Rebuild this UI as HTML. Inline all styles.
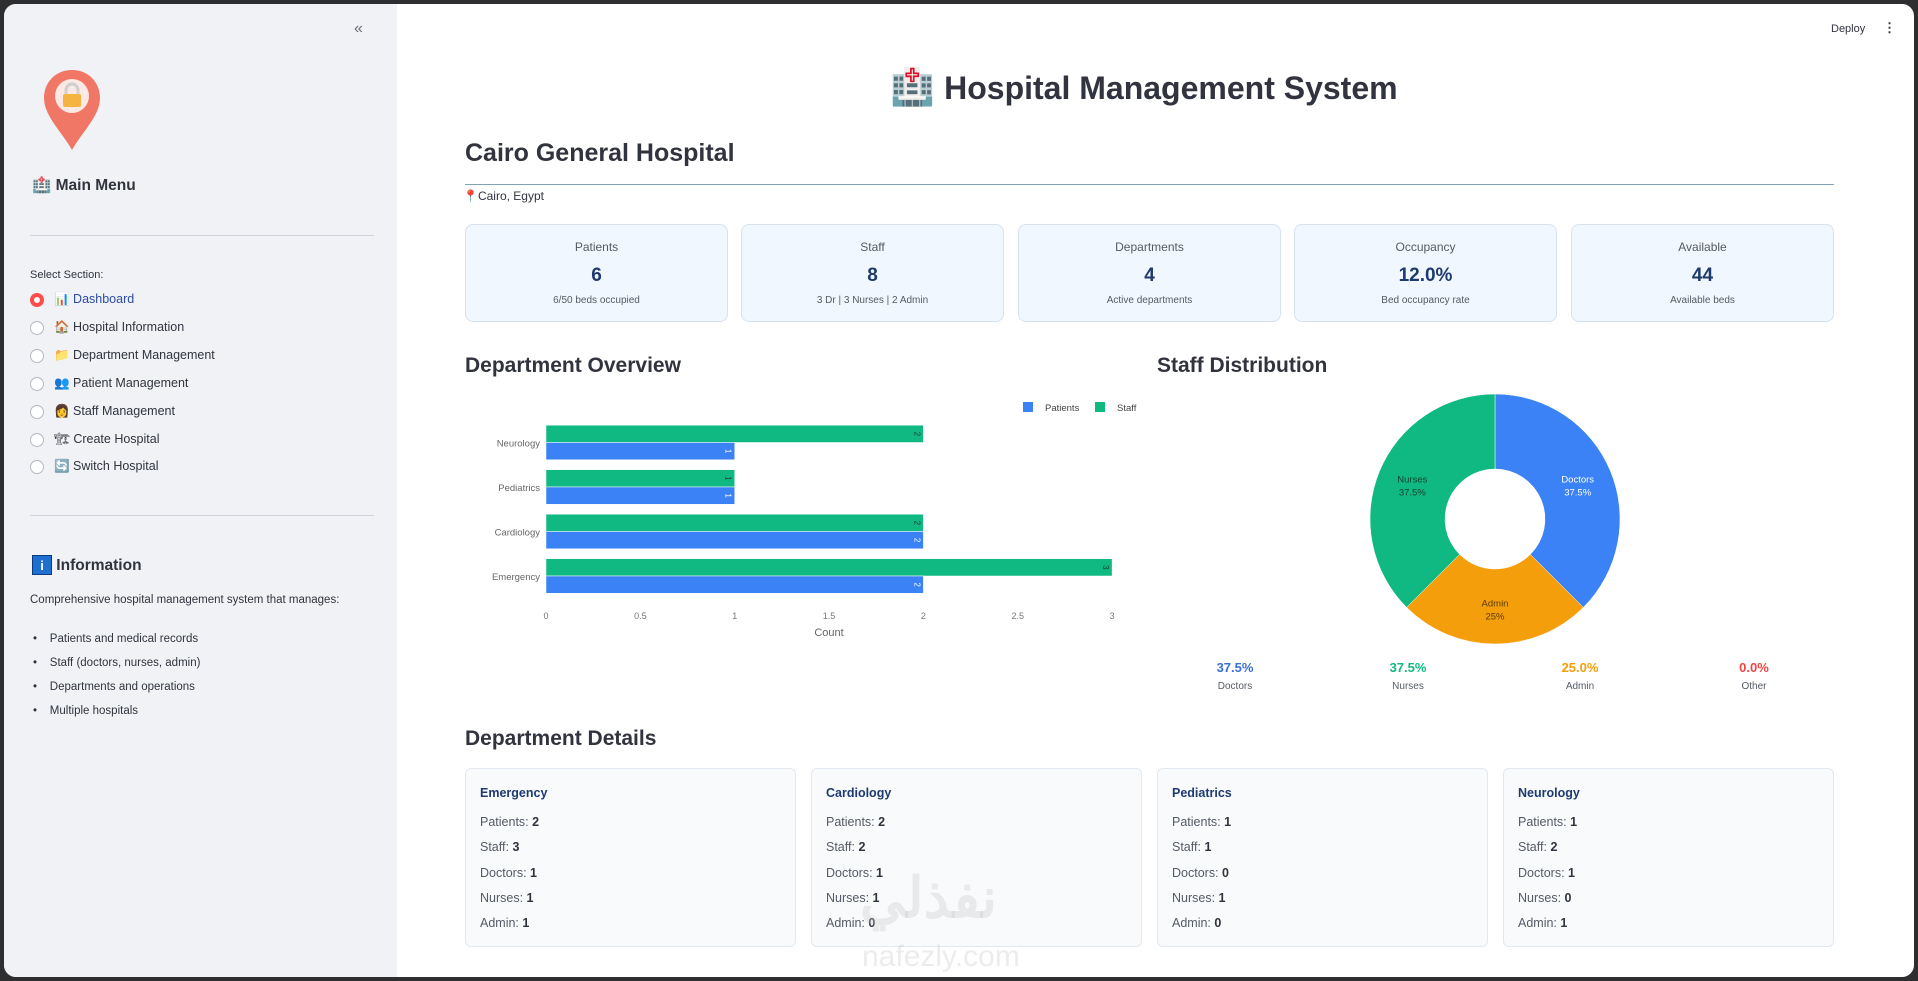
<!DOCTYPE html>
<html><head><meta charset="utf-8">
<style>
*{box-sizing:border-box;margin:0;padding:0}
body{width:1918px;height:981px;background:#2e2e30;font-family:"Liberation Sans","Noto Sans CJK SC",sans-serif;position:relative;overflow:hidden;color:#31333f}
.abs{position:absolute}
#frame{position:absolute;left:4px;top:4px;width:1910px;height:973px;background:#fff;border-radius:12px;overflow:hidden}
#side{position:absolute;left:0;top:0;width:393px;height:973px;background:#f0f2f6}
.radio{position:absolute;width:14px;height:14px;border-radius:50%;border:1px solid #b4b8c0;background:#fff}
.item{position:absolute;font-size:12.5px;color:#31333f;white-space:nowrap}
.card{position:absolute;top:224px;height:98px;width:263px;background:#f0f7fe;border:1px solid #d8e2ec;border-radius:8px;text-align:center}
.card .l{position:absolute;top:15px;width:100%;font-size:12px;color:#555b66}
.card .v{position:absolute;top:40px;width:100%;font-size:19px;font-weight:bold;color:#1e3a6e}
.card .s{position:absolute;top:70px;width:100%;font-size:10px;color:#555b66}
.dc{position:absolute;top:768px;height:179px;width:331px;background:#f8fafc;border:1px solid #e2e8f0;border-radius:6px}
.dc .n{position:absolute;left:14px;top:17px;font-size:12.5px;font-weight:bold;color:#1e3a6e}
.dc .r{position:absolute;left:14px;font-size:12.5px;color:#555b66}
.dc .r b{color:#31333f}
h2{position:absolute;font-size:21px;font-weight:bold;color:#31333f;white-space:nowrap}
</style></head>
<body>
<div id="frame">
 <div id="side">
  <div class="abs" style="left:350px;top:16px;font-size:16px;color:#6b6f78">«</div>
  <svg class="abs" style="left:38px;top:64px" width="60" height="86">
   <path d="M30 2 C13 2 2 15 2 30 C2 48 20 64 30 82 C40 64 58 48 58 30 C58 15 47 2 30 2Z" fill="#f07665"/>
   <circle cx="30" cy="28" r="17" fill="#fde8e3"/>
   <rect x="21" y="26" width="18" height="13" rx="2" fill="#f5b342"/>
   <path d="M24 26 v-4 a6 6 0 0 1 12 0 v4" stroke="#cfcfcf" stroke-width="3" fill="none"/>
  </svg>
  <div class="abs" style="left:28px;top:172px;font-size:15.5px;font-weight:bold">🏥 Main Menu</div>
  <div class="abs" style="left:26px;top:231px;width:344px;height:1px;background:#d0d3d9"></div>
  <div class="abs" style="left:26px;top:265px;font-size:11px;color:#31333f">Select Section:</div>
  <div class="radio" style="left:26px;top:289px;border:4px solid #ff4b4b"></div>
  <div class="item" style="left:50px;top:288px;color:#2b4aa0">📊 Dashboard</div>
  <div class="radio" style="left:26px;top:317px"></div>
  <div class="item" style="left:50px;top:316px">🏠 Hospital Information</div>
  <div class="radio" style="left:26px;top:345px"></div>
  <div class="item" style="left:50px;top:344px">📁 Department Management</div>
  <div class="radio" style="left:26px;top:373px"></div>
  <div class="item" style="left:50px;top:372px">👥 Patient Management</div>
  <div class="radio" style="left:26px;top:401px"></div>
  <div class="item" style="left:50px;top:400px">👩 Staff Management</div>
  <div class="radio" style="left:26px;top:429px"></div>
  <div class="item" style="left:50px;top:428px">🏗 Create Hospital</div>
  <div class="radio" style="left:26px;top:456px"></div>
  <div class="item" style="left:50px;top:455px">🔄 Switch Hospital</div>
  <div class="abs" style="left:26px;top:511px;width:344px;height:1px;background:#d0d3d9"></div>
  <div class="abs" style="left:28px;top:551px;font-size:15.5px;font-weight:bold"><span style="display:inline-block;width:20px;height:20px;background:#1f6fd0;color:#fff;font-size:13px;text-align:center;line-height:20px;border:1px solid #0b3a80">i</span> Information</div>
  <div class="abs" style="left:26px;top:590px;font-size:11.5px">Comprehensive hospital management system that manages:</div>
  <div class="abs" style="left:29px;top:623px;font-size:11.5px;line-height:24px">
   <div>•&nbsp;&nbsp;&nbsp;&nbsp;Patients and medical records</div>
   <div>•&nbsp;&nbsp;&nbsp;&nbsp;Staff (doctors, nurses, admin)</div>
   <div>•&nbsp;&nbsp;&nbsp;&nbsp;Departments and operations</div>
   <div>•&nbsp;&nbsp;&nbsp;&nbsp;Multiple hospitals</div>
  </div>
 </div>
 <div class="abs" style="left:1827px;top:19px;font-size:11px">Deploy</div>
 <div class="abs" style="left:1879px;top:16px;font-size:13px;font-weight:bold">⋮</div>
 <div class="abs" style="left:0;width:2280px;top:62px;font-size:32px;font-weight:bold;text-align:center"><span style="font-size:36px">🏥</span> Hospital Management System</div>
</div>
<h2 style="left:465px;top:139px;font-size:25px">Cairo General Hospital</h2>
<div class="abs" style="left:465px;top:184px;width:1369px;height:1px;background:#7fa3b5"></div>
<div class="abs" style="left:463px;top:189px;font-size:12px">📍Cairo, Egypt</div>

<div class="card" style="left:465px"><div class="l">Patients</div><div class="v">6</div><div class="s">6/50 beds occupied</div></div>
<div class="card" style="left:741px"><div class="l">Staff</div><div class="v">8</div><div class="s">3 Dr | 3 Nurses | 2 Admin</div></div>
<div class="card" style="left:1018px"><div class="l">Departments</div><div class="v">4</div><div class="s">Active departments</div></div>
<div class="card" style="left:1294px"><div class="l">Occupancy</div><div class="v">12.0%</div><div class="s">Bed occupancy rate</div></div>
<div class="card" style="left:1571px"><div class="l">Available</div><div class="v">44</div><div class="s">Available beds</div></div>

<h2 style="left:465px;top:354px">Department Overview</h2>
<h2 style="left:1157px;top:354px">Staff Distribution</h2>

<svg id="bar" class="abs" style="left:0;top:0" width="1918" height="981"></svg>

<div class="abs" style="left:1170px;top:660px;width:680px;height:40px">
 <div class="abs" style="left:15px;width:100px;text-align:center;font-size:13px;font-weight:bold;color:#3b6fd4">37.5%</div>
 <div class="abs" style="left:15px;top:21px;width:100px;text-align:center;font-size:10px;color:#555b66">Doctors</div>
 <div class="abs" style="left:188px;width:100px;text-align:center;font-size:13px;font-weight:bold;color:#10b981">37.5%</div>
 <div class="abs" style="left:188px;top:21px;width:100px;text-align:center;font-size:10px;color:#555b66">Nurses</div>
 <div class="abs" style="left:360px;width:100px;text-align:center;font-size:13px;font-weight:bold;color:#f59e0b">25.0%</div>
 <div class="abs" style="left:360px;top:21px;width:100px;text-align:center;font-size:10px;color:#555b66">Admin</div>
 <div class="abs" style="left:534px;width:100px;text-align:center;font-size:13px;font-weight:bold;color:#ef4444">0.0%</div>
 <div class="abs" style="left:534px;top:21px;width:100px;text-align:center;font-size:10px;color:#555b66">Other</div>
</div>

<h2 style="left:465px;top:727px">Department Details</h2>
<div class="dc" style="left:465px"><div class="n">Emergency</div><div class="r" style="top:46px">Patients: <b>2</b></div><div class="r" style="top:71px">Staff: <b>3</b></div><div class="r" style="top:97px">Doctors: <b>1</b></div><div class="r" style="top:122px">Nurses: <b>1</b></div><div class="r" style="top:147px">Admin: <b>1</b></div></div>
<div class="dc" style="left:811px"><div class="n">Cardiology</div><div class="r" style="top:46px">Patients: <b>2</b></div><div class="r" style="top:71px">Staff: <b>2</b></div><div class="r" style="top:97px">Doctors: <b>1</b></div><div class="r" style="top:122px">Nurses: <b>1</b></div><div class="r" style="top:147px">Admin: <b>0</b></div></div>
<div class="dc" style="left:1157px"><div class="n">Pediatrics</div><div class="r" style="top:46px">Patients: <b>1</b></div><div class="r" style="top:71px">Staff: <b>1</b></div><div class="r" style="top:97px">Doctors: <b>0</b></div><div class="r" style="top:122px">Nurses: <b>1</b></div><div class="r" style="top:147px">Admin: <b>0</b></div></div>
<div class="dc" style="left:1503px"><div class="n">Neurology</div><div class="r" style="top:46px">Patients: <b>1</b></div><div class="r" style="top:71px">Staff: <b>2</b></div><div class="r" style="top:97px">Doctors: <b>1</b></div><div class="r" style="top:122px">Nurses: <b>0</b></div><div class="r" style="top:147px">Admin: <b>1</b></div></div>
<div class="abs" style="left:860px;top:865px;font-size:56px;font-weight:bold;color:rgba(200,200,200,0.35)">نفذلي</div>
<div class="abs" style="left:862px;top:940px;font-size:30px;color:rgba(200,200,200,0.35)">nafezly.com</div>

<script>
const categories=['Emergency','Cardiology','Pediatrics','Neurology'];
const patients=[2,2,1,1];
const staff=[3,2,1,2];
const xTicks=[0,0.5,1,1.5,2,2.5,3];
const pieLabels=['Doctors','Admin','Nurses'];
const pieValues=[3,2,3];
const pieText=['37.5%','25%','37.5%'];

const NS='http://www.w3.org/2000/svg';
const svg=document.getElementById('bar');
function mk(tag,attrs,parent){const e=document.createElementNS(NS,tag);for(const k in attrs)e.setAttribute(k,attrs[k]);(parent||svg).appendChild(e);return e;}
const x0=546,xUnit=188.7;
function xs(v){return x0+v*xUnit;}
function yc(i){return 576-i*44.5;}
const bh=17.3;
xTicks.forEach(t=>{
 const tx=mk('text',{x:xs(t),y:619,'text-anchor':'middle','font-size':9,fill:'#777'});
 
 
 tx.textContent=t;
});
const xt=mk('text',{x:xs(1.5),y:636,'text-anchor':'middle','font-size':11,fill:'#666'});


xt.textContent='Count';
categories.forEach((c,i)=>{
 const cy=yc(i);
 const lb=mk('text',{x:540,y:cy+4,'text-anchor':'end','font-size':9.5,fill:'#666'});
 
 
 lb.textContent=c;
 const sb=mk('rect',{x:xs(0),y:cy-bh,width:xs(staff[i])-xs(0),height:bh,fill:'#10b981',stroke:'#fff','stroke-width':0.5});
 
 
 const pb=mk('rect',{x:xs(0),y:cy,width:xs(patients[i])-xs(0),height:bh,fill:'#3b82f6',stroke:'#fff','stroke-width':0.5});
 
 
 const st=mk('text',{x:xs(staff[i])-7,y:cy-bh/2,'text-anchor':'middle','font-size':8,fill:'#1f3b2e',transform:`rotate(90 ${xs(staff[i])-7} ${cy-bh/2})`,'dominant-baseline':'middle'});
 
 
 st.textContent=staff[i];
 const pt=mk('text',{x:xs(patients[i])-7,y:cy+bh/2,'text-anchor':'middle','font-size':8,fill:'#fff',transform:`rotate(90 ${xs(patients[i])-7} ${cy+bh/2})`,'dominant-baseline':'middle'});
 
 
 pt.textContent=patients[i];
});
const lg1=mk('rect',{x:1023,y:402,width:10,height:10,fill:'#3b82f6'});


const lt1=mk('text',{x:1045,y:411,'font-size':9.5,fill:'#444'});lt1.textContent='Patients';


const lg2=mk('rect',{x:1095,y:402,width:10,height:10,fill:'#10b981'});


const lt2=mk('text',{x:1117,y:411,'font-size':9.5,fill:'#444'});lt2.textContent='Staff';



// donut
const cx=1495,cy=519,ro=125,ri=50;
const colors=['#3b82f6','#f59e0b','#10b981'];
const txtCol=['#fff','#5a3a00','#14432f'];
const total=pieValues.reduce((a,b)=>a+b,0);
let a=0;
function pt(r,ang){return [cx+r*Math.sin(ang),cy-r*Math.cos(ang)];}
pieValues.forEach((v,i)=>{
 const a1=a,a2=a+v/total*2*Math.PI;a=a2;
 const lg=(a2-a1)>Math.PI?1:0;
 const [x1,y1]=pt(ro,a1),[x2,y2]=pt(ro,a2),[x3,y3]=pt(ri,a2),[x4,y4]=pt(ri,a1);
 const p=mk('path',{d:`M${x1} ${y1} A${ro} ${ro} 0 ${lg} 1 ${x2} ${y2} L${x3} ${y3} A${ri} ${ri} 0 ${lg} 0 ${x4} ${y4}Z`,fill:colors[i],stroke:'#fff','stroke-width':0.5});
 
 
 const m=(a1+a2)/2,[lx,ly]=pt((ro+ri)/2+2,m);
 const t=mk('text',{x:lx,y:ly-2,'text-anchor':'middle','font-size':9.5,fill:txtCol[i]});
 
 
 t.textContent=pieLabels[i];
 const t2=mk('text',{x:lx,y:ly+11,'text-anchor':'middle','font-size':9.5,fill:txtCol[i]});
 
 
 t2.textContent=pieText[i];
});
</script>
</body></html>
